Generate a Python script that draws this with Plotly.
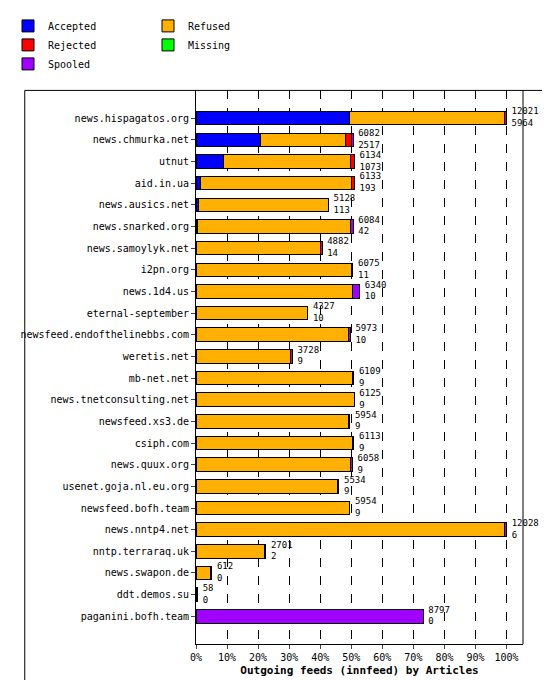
import plotly.graph_objects as go

feeds = ['news.hispagatos.org', 'news.chmurka.net', 'utnut', 'aid.in.ua', 'news.ausics.net',
         'news.snarked.org', 'news.samoylyk.net', 'i2pn.org', 'news.1d4.us', 'eternal-september',
         'newsfeed.endofthelinebbs.com', 'weretis.net', 'mb-net.net', 'news.tnetconsulting.net',
         'newsfeed.xs3.de', 'csiph.com', 'news.quux.org', 'usenet.goja.nl.eu.org',
         'newsfeed.bofh.team', 'news.nntp4.net', 'nntp.terraraq.uk', 'news.swapon.de',
         'ddt.demos.su', 'paganini.bofh.team']
totals = [12021, 6082, 6134, 6133, 5128, 6084, 4882, 6075, 6340, 4327, 5973, 3728, 6109, 6125,
          5954, 6113, 6058, 5534, 5954, 12028, 2701, 612, 58, 8797]
accepted = [5964, 2517, 1073, 193, 113, 42, 14, 11, 10, 10, 10, 9, 9, 9, 9, 9, 9, 9, 9, 6, 2, 0, 0, 0]
refused = [6000, 3258, 4927, 5840, 5015, 5950, 4800, 6000, 6050, 4317, 5900, 3650, 6040, 6116,
           5880, 6050, 5990, 5460, 5945, 11950, 2640, 560, 58, 0]
rejected = [57, 250, 134, 100, 0, 0, 68, 0, 0, 0, 0, 69, 0, 0, 65, 0, 0, 65, 0, 0, 59, 0, 0, 0]
missing = [0, 0, 0, 0, 0, 10, 0, 0, 0, 0, 0, 0, 0, 0, 0, 0, 0, 0, 0, 0, 0, 0, 0, 0]
spooled = [0, 57, 0, 0, 0, 82, 0, 64, 280, 0, 63, 0, 60, 0, 0, 54, 59, 0, 0, 72, 0, 52, 0, 8797]

series = [('Accepted', accepted, '#0000ff'), ('Refused', refused, '#ffb000'),
          ('Rejected', rejected, '#ff0000'), ('Missing', missing, '#00ff00'),
          ('Spooled', spooled, '#a000ff')]

top = max(totals)
ticks = [top * i / 10 for i in range(11)]
tick_labels = [f'{i * 10}%' for i in range(11)]
font = 'DejaVu Sans Mono'

fig = go.Figure()
for name, vals, col in series:
    fig.add_trace(go.Bar(y=feeds, x=vals, name=name, orientation='h',
                         marker=dict(color=col, line=dict(color='black', width=1)),
                         width=0.62))

# total / accepted labels at end of each bar
fig.add_trace(go.Scatter(y=feeds, x=[t + 200 for t in totals], mode='text',
                         text=[f'{t}<br>{a}' for t, a in zip(totals, accepted)],
                         textposition='middle right', textfont=dict(size=9, family=font),
                         showlegend=False, cliponaxis=False, hoverinfo='skip'))

fig.update_layout(
    width=550, height=680, barmode='stack', plot_bgcolor='white', paper_bgcolor='white',
    font=dict(family=font, size=10, color='black'),
    margin=dict(l=177, r=35, t=36, b=44),
    legend=dict(orientation='h', xref='container', yref='container', x=0.0, y=0.995,
                xanchor='left', yanchor='top', font=dict(size=10), entrywidth=95,
                traceorder='normal', itemwidth=30),
    showlegend=True,
    bargap=0.3,
)
fig.update_xaxes(range=[0, top * 1.053], tickvals=ticks, ticktext=tick_labels,
                 showgrid=True, gridcolor='black', griddash='dash', gridwidth=1,
                 ticks='outside', ticklen=4, showline=True, linecolor='black',
                 zeroline=False,
                 title=dict(text='<b>Outgoing feeds (innfeed) by Articles</b>',
                            font=dict(size=11), standoff=4))
fig.update_yaxes(autorange='reversed', showline=True, linecolor='black', ticks='outside',
                 ticklen=4, tickfont=dict(size=10))
fig.add_shape(type='rect', xref='paper', yref='paper', x0=-177 / 338, x1=1 + 34 / 338,
              y0=-44 / 600, y1=1, line=dict(color='black', width=1))
fig.add_shape(type='line', xref='paper', yref='paper', x0=1, x1=1, y0=0, y1=1,
              line=dict(color='black', width=1))

fig.write_html('out.html')
